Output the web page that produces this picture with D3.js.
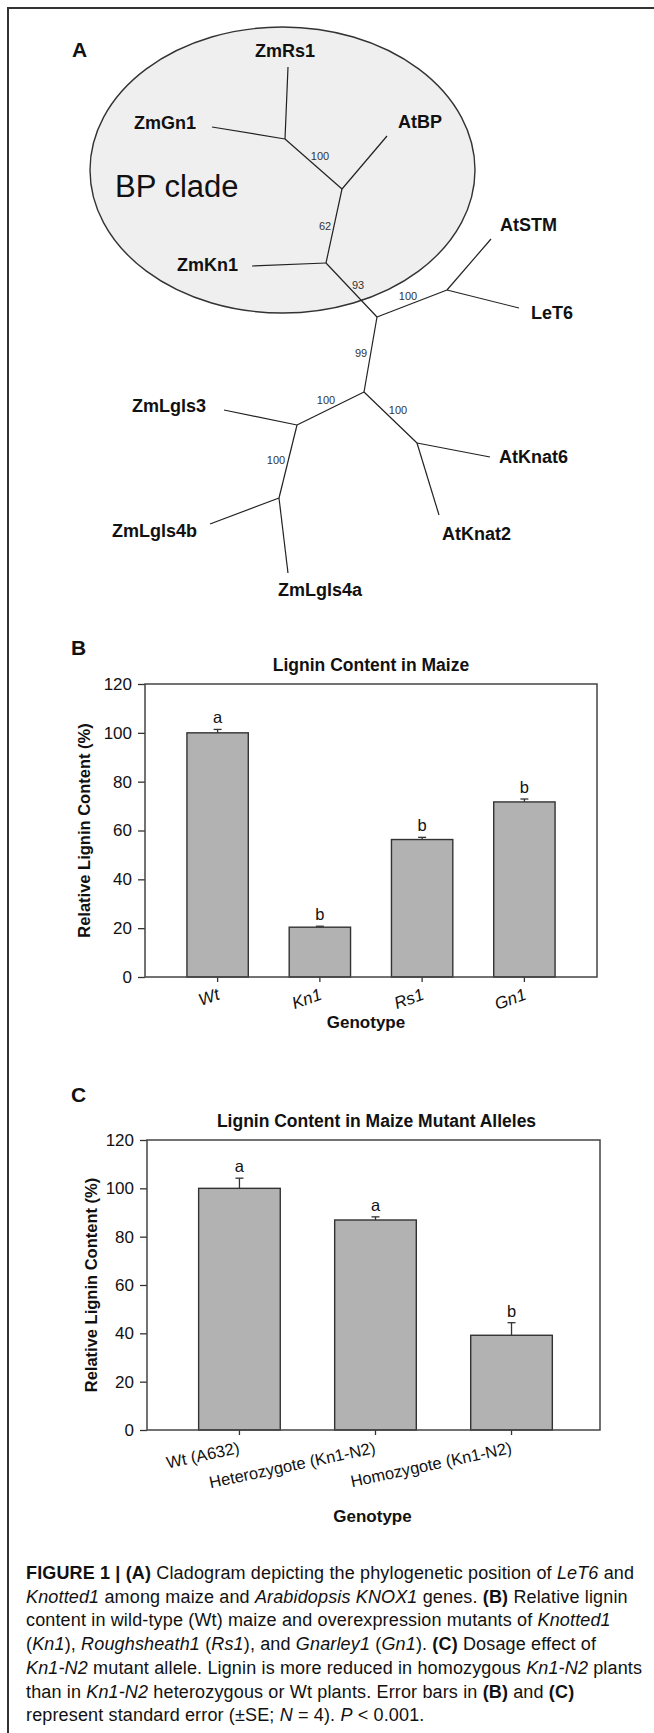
<!DOCTYPE html>
<html>
<head>
<meta charset="utf-8">
<script src="https://cdn.jsdelivr.net/npm/d3@7"></script>
<style>
  body { margin: 0; background: #fff; }
  svg text { font-family: "Liberation Sans", Arial, sans-serif; fill: #111; }
</style>
</head>
<body>
<svg id="fig" width="654" height="1733"></svg>
<script>
// ---- panel A: unrooted cladogram (tree units, 1 unit ~ 5px) ----
const treeNodes = [
  { id: "n1", x: 39.0, y: 21.8 },
  { id: "n2", x: 50.4, y: 31.8 },
  { id: "n3", x: 47.2, y: 46.6 },
  { id: "n4", x: 57.4, y: 57.4 },
  { id: "n5", x: 71.4, y: 52.0 },
  { id: "n6", x: 54.8, y: 72.4 },
  { id: "n7", x: 41.4, y: 79.0 },
  { id: "n8", x: 37.8, y: 93.6 },
  { id: "n9", x: 65.4, y: 82.6 }
];
// leaf tips and where their names sit
const leaves = [
  { id: "ZmRs1",    x: 39.6, y: 7.4,   lx: 39.0, ly: 5.4,   anchor: "middle" },
  { id: "ZmGn1",    x: 24.4, y: 19.4,  lx: 21.2, ly: 19.8,  anchor: "end" },
  { id: "AtBP",     x: 59.4, y: 21.2,  lx: 61.6, ly: 19.6,  anchor: "start" },
  { id: "ZmKn1",    x: 32.4, y: 47.2,  lx: 29.6, ly: 48.2,  anchor: "end" },
  { id: "AtSTM",    x: 80.2, y: 41.8,  lx: 82.0, ly: 40.2,  anchor: "start" },
  { id: "LeT6",     x: 85.8, y: 55.6,  lx: 88.2, ly: 57.8,  anchor: "start" },
  { id: "ZmLgls3",  x: 26.8, y: 76.0,  lx: 23.2, ly: 76.4,  anchor: "end" },
  { id: "ZmLgls4b", x: 24.0, y: 98.8,  lx: 21.4, ly: 101.4, anchor: "end" },
  { id: "ZmLgls4a", x: 39.6, y: 108.6, lx: 37.6, ly: 113.2, anchor: "start" },
  { id: "AtKnat6",  x: 80.0, y: 85.4,  lx: 81.8, ly: 86.6,  anchor: "start" },
  { id: "AtKnat2",  x: 69.8, y: 97.0,  lx: 70.4, ly: 102.0, anchor: "start" }
];
const treeEdges = [
  ["n1", "ZmRs1"], ["n1", "ZmGn1"], ["n1", "n2"], ["n2", "AtBP"], ["n2", "n3"],
  ["n3", "ZmKn1"], ["n3", "n4"], ["n4", "n5"], ["n5", "AtSTM"], ["n5", "LeT6"],
  ["n4", "n6"], ["n6", "n7"], ["n7", "ZmLgls3"], ["n7", "n8"], ["n8", "ZmLgls4b"],
  ["n8", "ZmLgls4a"], ["n6", "n9"], ["n9", "AtKnat6"], ["n9", "AtKnat2"]
];
// bootstrap support values
const bootstrap = [
  { v: "100", x: 46.0, y: 25.2 },
  { v: "62",  x: 47.0, y: 39.2 },
  { v: "93",  x: 53.6, y: 51.0 },
  { v: "100", x: 63.6, y: 53.2 },
  { v: "99",  x: 54.2, y: 64.6 },
  { v: "100", x: 47.2, y: 74.0 },
  { v: "100", x: 37.2, y: 86.0 },
  { v: "100", x: 61.6, y: 76.0 }
];
const clade = { name: "BP clade", cx: 38.5, cy: 28.0, rx: 38.5, ry: 28.6, lx: 5.0, ly: 33.4 };

// ---- panel B ----
const genotypesB = ["Wt", "Kn1", "Rs1", "Gn1"];
const ligninB = [100, 20.4, 56.3, 71.7];
const seB = [1.4, 0.4, 0.9, 1.2];
const groupsB = ["a", "b", "b", "b"];

// ---- panel C ----
const genotypesC = ["Wt (A632)", "Heterozygote (Kn1-N2)", "Homozygote (Kn1-N2)"];
const ligninC = [100, 86.9, 39.2];
const seC = [4.2, 1.3, 5.2];
const groupsC = ["a", "a", "b"];

const yTicks = [0, 20, 40, 60, 80, 100, 120];

// ---- caption ----
const caption = [
  [["FIGURE 1 | ", "b"], ["(A)", "b"], [" Cladogram depicting the phylogenetic position of ", ""], ["LeT6", "i"], [" and", ""]],
  [["Knotted1", "i"], [" among maize and ", ""], ["Arabidopsis KNOX1", "i"], [" genes. ", ""], ["(B)", "b"], [" Relative lignin", ""]],
  [["content in wild-type (Wt) maize and overexpression mutants of ", ""], ["Knotted1", "i"]],
  [["(", ""], ["Kn1", "i"], ["), ", ""], ["Roughsheath1", "i"], [" (", ""], ["Rs1", "i"], ["), and ", ""], ["Gnarley1", "i"], [" (", ""], ["Gn1", "i"], ["). ", ""], ["(C)", "b"], [" Dosage effect of", ""]],
  [["Kn1-N2", "i"], [" mutant allele. Lignin is more reduced in homozygous ", ""], ["Kn1-N2", "i"], [" plants", ""]],
  [["than in ", ""], ["Kn1-N2", "i"], [" heterozygous or Wt plants. Error bars in ", ""], ["(B)", "b"], [" and ", ""], ["(C)", "b"]],
  [["represent standard error (\u00b1SE; ", ""], ["N", "i"], [" = 4). ", ""], ["P", "i"], [" < 0.001.", ""]]
];

const svg = d3.select("#fig");
const ink = "#333";

// outer frame (cropped at right and bottom)
svg.append("path").attr("d", "M8,1733V8H654")
  .attr("fill", "none").attr("stroke", ink).attr("stroke-width", 2);

function panelLetter(t, x, y) {
  svg.append("text").attr("x", x).attr("y", y).text(t)
    .style("font-size", "21px").style("font-weight", "bold");
}

// ---------- A ----------
const tx = d3.scaleLinear().domain([0, 100]).range([90, 590]);
const ty = d3.scaleLinear().domain([0, 100]).range([30, 530]);
const pos = new Map();
treeNodes.forEach(d => pos.set(d.id, d));
leaves.forEach(d => pos.set(d.id, d));

const gA = svg.append("g");
gA.append("ellipse")
  .attr("cx", tx(clade.cx)).attr("cy", ty(clade.cy))
  .attr("rx", tx(clade.rx) - tx(0)).attr("ry", ty(clade.ry) - ty(0))
  .attr("fill", "#efefef").attr("stroke", ink).attr("stroke-width", 1.4);
gA.append("text").attr("x", tx(clade.lx)).attr("y", ty(clade.ly)).text(clade.name)
  .style("font-size", "31px");

gA.selectAll("line.edge").data(treeEdges).join("line")
  .attr("class", "edge")
  .attr("x1", d => tx(pos.get(d[0]).x)).attr("y1", d => ty(pos.get(d[0]).y))
  .attr("x2", d => tx(pos.get(d[1]).x)).attr("y2", d => ty(pos.get(d[1]).y))
  .attr("stroke", "#222").attr("stroke-width", 1.2);

gA.selectAll("text.leaf").data(leaves).join("text")
  .attr("class", "leaf")
  .attr("x", d => tx(d.lx)).attr("y", d => ty(d.ly))
  .attr("text-anchor", d => d.anchor)
  .style("font-size", "18px").style("font-weight", "bold")
  .text(d => d.id);

gA.selectAll("text.boot").data(bootstrap).join("text")
  .attr("class", "boot")
  .attr("x", d => tx(d.x)).attr("y", d => ty(d.y)).attr("dy", "0.35em")
  .attr("text-anchor", "middle")
  .style("font-size", "11px").style("fill", "#333")
  .text(d => d.v);

panelLetter("A", 72, 57);

// ---------- bar panels ----------
function barPanel(o) {
  const x = d3.scaleBand().domain(o.cats).range([o.left, o.right])
    .paddingInner(0.4).paddingOuter(o.po).align(o.align);
  const y = d3.scaleLinear().domain([0, 120]).range([o.bottom, o.top]);
  const g = svg.append("g");
  const rows = o.cats.map((c, i) => ({ c, v: o.vals[i], se: o.se[i], grp: o.groups[i] }));

  g.selectAll("rect.bar").data(rows).join("rect")
    .attr("class", "bar")
    .attr("x", d => x(d.c)).attr("width", x.bandwidth())
    .attr("y", d => y(d.v)).attr("height", d => y(0) - y(d.v))
    .attr("fill", "#b2b2b2").attr("stroke", ink).attr("stroke-width", 1.4);

  // error bars (upper half only)
  const cx = d => x(d.c) + x.bandwidth() / 2;
  g.selectAll("line.err").data(rows).join("line")
    .attr("x1", cx).attr("x2", cx)
    .attr("y1", d => y(d.v)).attr("y2", d => y(d.v + d.se))
    .attr("stroke", ink).attr("stroke-width", 1.3);
  g.selectAll("line.cap").data(rows).join("line")
    .attr("x1", d => cx(d) - 4).attr("x2", d => cx(d) + 4)
    .attr("y1", d => y(d.v + d.se)).attr("y2", d => y(d.v + d.se))
    .attr("stroke", ink).attr("stroke-width", 1.3);

  g.selectAll("text.grp").data(rows).join("text")
    .attr("x", cx).attr("y", d => y(d.v + d.se) - 6)
    .attr("text-anchor", "middle").style("font-size", "16.5px")
    .text(d => d.grp);

  // y axis
  const ya = g.append("g").attr("transform", `translate(${o.left},0)`)
    .call(d3.axisLeft(y).tickValues(yTicks).tickSize(7).tickPadding(6));
  ya.select(".domain").remove();
  ya.selectAll("line").attr("stroke", ink).attr("stroke-width", 1.3);
  ya.selectAll("text").style("font-size", "17px").style("font-family", "Liberation Sans, Arial, sans-serif").attr("fill", "#111");

  // x axis
  const xa = g.append("g").attr("transform", `translate(0,${o.bottom})`)
    .call(d3.axisBottom(x).tickSize(5));
  xa.select(".domain").remove();
  xa.selectAll("line").attr("stroke", ink).attr("stroke-width", 1.3);
  xa.selectAll("text")
    .attr("x", 0).attr("y", 0).attr("dy", null)
    .attr("text-anchor", "end")
    .attr("transform", `translate(${o.labelDx},${o.labelDy}) rotate(${o.rot})`)
    .style("font-size", o.labelSize).style("font-style", o.italic ? "italic" : "normal")
    .style("font-family", "Liberation Sans, Arial, sans-serif").attr("fill", "#111");

  // plot frame
  g.append("rect").attr("x", o.left).attr("y", o.top)
    .attr("width", o.right - o.left).attr("height", o.bottom - o.top)
    .attr("fill", "none").attr("stroke", "#444").attr("stroke-width", 1.5);

  g.append("text").attr("x", (o.left + o.right) / 2 + o.titleDx).attr("y", o.top - 13)
    .attr("text-anchor", "middle").style("font-size", "17.5px").style("font-weight", "bold")
    .text(o.title);
  g.append("text").attr("transform", `translate(${o.yTitleX},${(o.top + o.bottom) / 2}) rotate(-90)`)
    .attr("text-anchor", "middle").style("font-size", "16.5px").style("font-weight", "bold")
    .text("Relative Lignin Content (%)");
  g.append("text").attr("x", (o.left + o.right) / 2 + o.xTitleDx).attr("y", o.xTitleY)
    .attr("text-anchor", "middle").style("font-size", "17px").style("font-weight", "bold")
    .text("Genotype");
}

panelLetter("B", 71, 655);
barPanel({
  cats: genotypesB, vals: ligninB, se: seB, groups: groupsB,
  left: 145, right: 597, top: 684, bottom: 977, po: 0.41, align: 0.5,
  rot: -20, labelDx: 3, labelDy: 22, italic: true, labelSize: "17px",
  title: "Lignin Content in Maize", titleDx: 0, yTitleX: 90, xTitleDx: -5, xTitleY: 1028
});

panelLetter("C", 71, 1102);
barPanel({
  cats: genotypesC, vals: ligninC, se: seC, groups: groupsC,
  left: 147, right: 600, top: 1140, bottom: 1430, po: 0.365, align: 0.52,
  rot: -12, labelDx: 1, labelDy: 23, italic: false, labelSize: "16.5px",
  title: "Lignin Content in Maize Mutant Alleles", titleDx: 3, yTitleX: 97, xTitleDx: -1, xTitleY: 1522
});

// ---------- caption ----------
const cap = svg.append("g");
caption.forEach((line, i) => {
  const t = cap.append("text").attr("x", 26).attr("y", 1579 + i * 23.7)
    .style("font-size", "18px").style("letter-spacing", "0.15px");
  line.forEach(([s, st]) => {
    t.append("tspan").text(s)
      .style("font-weight", st === "b" ? "bold" : "normal")
      .style("font-style", st === "i" ? "italic" : "normal");
  });
});
</script>
</body>
</html>
